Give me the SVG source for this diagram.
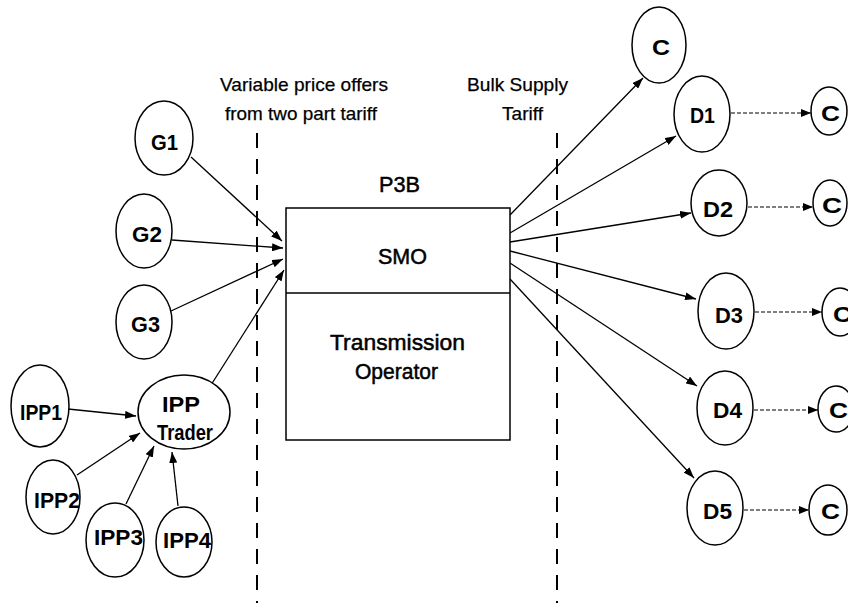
<svg xmlns="http://www.w3.org/2000/svg" width="848" height="603" viewBox="0 0 848 603">
<defs>
<marker id="ah" markerUnits="userSpaceOnUse" markerWidth="11" markerHeight="8" refX="11" refY="4" orient="auto">
<path d="M0,0 L11,4 L0,8 z" fill="#000"/>
</marker>
<marker id="ahs" markerUnits="userSpaceOnUse" markerWidth="10" markerHeight="8" refX="10" refY="4" orient="auto">
<path d="M0,0 L10,4 L0,8 z" fill="#000"/>
</marker>
</defs>
<style>
.n{fill:#fff;stroke:#000;stroke-width:1.5}
.t{font-family:"Liberation Sans",Arial,sans-serif;font-size:22px;font-weight:bold;fill:#000}
.a{font-family:"Liberation Sans",Arial,sans-serif;font-size:19px;fill:#000;stroke:#000;stroke-width:0.25}
.b{font-family:"Liberation Sans",Arial,sans-serif;font-size:22px;fill:#000;stroke:#000;stroke-width:0.5}
.e{stroke:#000;stroke-width:1.3;fill:none;marker-end:url(#ah)}
.d{stroke:#000;stroke-width:1.2;fill:none;stroke-dasharray:4 2;marker-end:url(#ahs)}
.v{stroke:#000;stroke-width:2;stroke-dasharray:15 11;fill:none}
</style>
<rect width="848" height="603" fill="#fff"/>

<g id="annotations">
<text class="a" x="220" y="91" textLength="168" lengthAdjust="spacingAndGlyphs">Variable price offers</text>
<text class="a" x="225" y="120" textLength="152" lengthAdjust="spacingAndGlyphs">from two part tariff</text>
<text class="a" x="467" y="91" textLength="101" lengthAdjust="spacingAndGlyphs">Bulk Supply</text>
<text class="a" x="502" y="120" textLength="41" lengthAdjust="spacingAndGlyphs">Tariff</text>
<line class="v" x1="257" y1="133" x2="257" y2="603"/>
<line class="v" x1="557" y1="133" x2="557" y2="603"/>
</g>

<g id="connectors">
<line class="e" x1="191" y1="157" x2="282" y2="241"/>
<line class="e" x1="172" y1="240" x2="283" y2="248"/>
<line class="e" x1="171" y1="311" x2="283" y2="259"/>
<line class="e" x1="211" y1="385" x2="284" y2="270"/>
<line class="e" x1="68" y1="409" x2="136" y2="416"/>
<line class="e" x1="77" y1="475" x2="140" y2="433"/>
<line class="e" x1="126" y1="504" x2="154" y2="446"/>
<line class="e" x1="178" y1="506" x2="172" y2="452"/>
<line class="e" x1="510" y1="215" x2="643" y2="78"/>
<line class="e" x1="510" y1="233" x2="676" y2="136"/>
<line class="e" x1="510" y1="242" x2="691" y2="213"/>
<line class="e" x1="510" y1="251" x2="696" y2="299"/>
<line class="e" x1="510" y1="263" x2="697" y2="386"/>
<line class="e" x1="510" y1="279" x2="694" y2="478"/>
<line class="d" x1="731" y1="113" x2="811" y2="113"/>
<line class="d" x1="748" y1="207" x2="813" y2="207"/>
<line class="d" x1="755" y1="312" x2="822" y2="312"/>
<line class="d" x1="754" y1="410" x2="818" y2="410"/>
<line class="d" x1="744" y1="510" x2="809" y2="510"/>
</g>

<g id="p3b">
<text class="b" x="379" y="192" textLength="41" lengthAdjust="spacingAndGlyphs">P3B</text>
<rect x="286" y="208" width="224" height="232" fill="#fff" stroke="#000" stroke-width="1.5"/>
<line x1="286" y1="293" x2="510" y2="293" stroke="#000" stroke-width="1.3"/>
<text class="b" x="378" y="264" textLength="49" lengthAdjust="spacingAndGlyphs">SMO</text>
<text class="b" x="330" y="350" textLength="135" lengthAdjust="spacingAndGlyphs">Transmission</text>
<text class="b" x="355" y="379" textLength="83" lengthAdjust="spacingAndGlyphs">Operator</text>
</g>

<g id="G1"><ellipse class="n" cx="164" cy="138" rx="29" ry="37"/><text class="t" x="151" y="150" textLength="27" lengthAdjust="spacingAndGlyphs">G1</text></g>
<g id="G2"><ellipse class="n" cx="144" cy="231" rx="28" ry="37"/><text class="t" x="132" y="242" textLength="30" lengthAdjust="spacingAndGlyphs">G2</text></g>
<g id="G3"><ellipse class="n" cx="144" cy="322" rx="28" ry="37"/><text class="t" x="131" y="332" textLength="29" lengthAdjust="spacingAndGlyphs">G3</text></g>
<g id="IPPTrader"><ellipse class="n" cx="184" cy="412" rx="46" ry="37"/><text class="t" x="162" y="412" textLength="38" lengthAdjust="spacingAndGlyphs">IPP</text><text class="t" x="157" y="440" textLength="56" lengthAdjust="spacingAndGlyphs">Trader</text></g>
<g id="IPP1"><ellipse class="n" cx="40" cy="406" rx="29" ry="41"/><text class="t" x="20" y="420" textLength="42" lengthAdjust="spacingAndGlyphs">IPP1</text></g>
<g id="IPP2"><ellipse class="n" cx="53" cy="497" rx="27" ry="37"/><text class="t" x="34" y="508" textLength="46" lengthAdjust="spacingAndGlyphs">IPP2</text></g>
<g id="IPP3"><ellipse class="n" cx="115" cy="540" rx="29" ry="37"/><text class="t" x="94" y="545" textLength="49" lengthAdjust="spacingAndGlyphs">IPP3</text></g>
<g id="IPP4"><ellipse class="n" cx="184" cy="542" rx="28" ry="35"/><text class="t" x="163" y="548" textLength="48" lengthAdjust="spacingAndGlyphs">IPP4</text></g>

<g id="C0"><ellipse class="n" cx="659" cy="45" rx="27" ry="38"/><text class="t" x="652" y="55" textLength="18" lengthAdjust="spacingAndGlyphs">C</text></g>
<g id="D1"><ellipse class="n" cx="702" cy="114" rx="28" ry="38"/><text class="t" x="690" y="123" textLength="25" lengthAdjust="spacingAndGlyphs">D1</text></g>
<g id="C1"><ellipse class="n" cx="829" cy="111" rx="18" ry="24"/><text class="t" x="821" y="121" textLength="19" lengthAdjust="spacingAndGlyphs">C</text></g>
<g id="D2"><ellipse class="n" cx="719" cy="203" rx="28" ry="33"/><text class="t" x="703" y="217" textLength="30" lengthAdjust="spacingAndGlyphs">D2</text></g>
<g id="C2"><ellipse class="n" cx="830" cy="203" rx="17" ry="23"/><text class="t" x="822" y="213" textLength="20" lengthAdjust="spacingAndGlyphs">C</text></g>
<g id="D3"><ellipse class="n" cx="726" cy="311" rx="28" ry="38"/><text class="t" x="715" y="323" textLength="28" lengthAdjust="spacingAndGlyphs">D3</text></g>
<g id="C3"><ellipse class="n" cx="840" cy="312" rx="18" ry="24"/><text class="t" x="833" y="322" textLength="19" lengthAdjust="spacingAndGlyphs">C</text></g>
<g id="D4"><ellipse class="n" cx="725" cy="408" rx="28" ry="37"/><text class="t" x="713" y="418" textLength="29" lengthAdjust="spacingAndGlyphs">D4</text></g>
<g id="C4"><ellipse class="n" cx="836" cy="409" rx="18" ry="23"/><text class="t" x="829" y="418" textLength="19" lengthAdjust="spacingAndGlyphs">C</text></g>
<g id="D5"><ellipse class="n" cx="715" cy="508" rx="28" ry="37"/><text class="t" x="703" y="519" textLength="29" lengthAdjust="spacingAndGlyphs">D5</text></g>
<g id="C5"><ellipse class="n" cx="828" cy="510" rx="19" ry="25"/><text class="t" x="821" y="519" textLength="19" lengthAdjust="spacingAndGlyphs">C</text></g>
</svg>
